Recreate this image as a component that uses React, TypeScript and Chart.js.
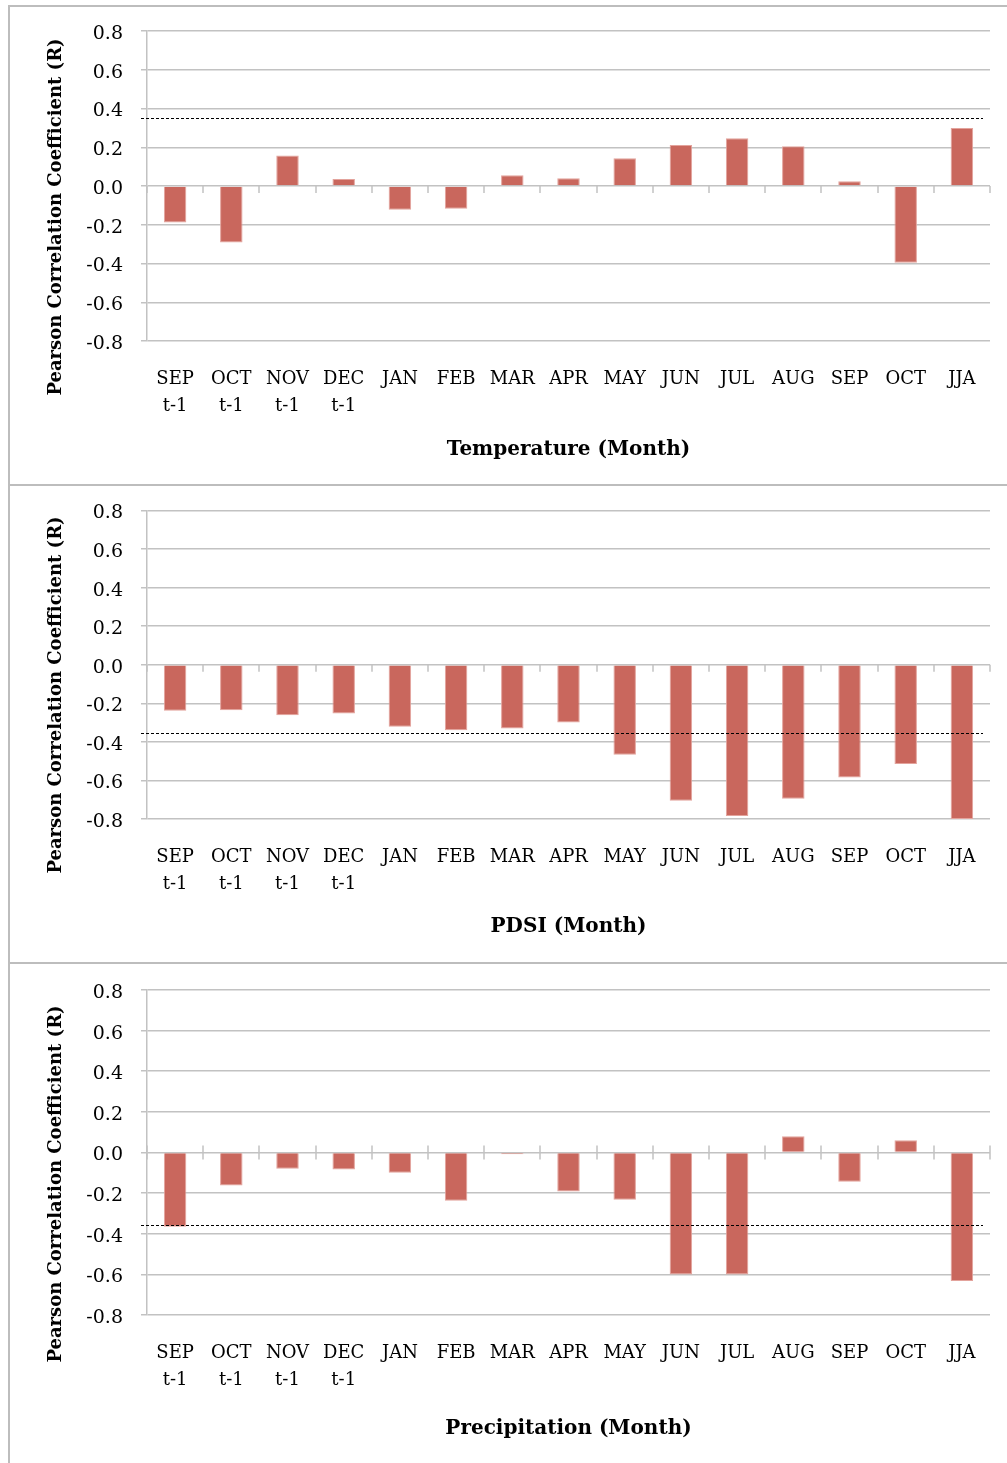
import React, { useEffect, useRef } from 'react';
import { Chart, registerables } from 'chart.js';

Chart.register(...registerables);

// ---------- data ----------
const categories: (string | string[])[] = [
  ['SEP', 't-1'], ['OCT', 't-1'], ['NOV', 't-1'], ['DEC', 't-1'],
  'JAN', 'FEB', 'MAR', 'APR', 'MAY', 'JUN', 'JUL', 'AUG', 'SEP', 'OCT', 'JJA',
];
const temperatureR = [-0.188, -0.292, 0.158, 0.036, -0.123, -0.118, 0.056, 0.04, 0.143, 0.212, 0.246, 0.205, 0.024, -0.396, 0.299];
const pdsiR = [-0.239, -0.236, -0.262, -0.253, -0.321, -0.34, -0.33, -0.3, -0.467, -0.705, -0.785, -0.695, -0.585, -0.515, -0.8];
const precipitationR = [-0.365, -0.163, -0.08, -0.084, -0.1, -0.237, -0.008, -0.192, -0.232, -0.6, -0.6, 0.08, -0.144, 0.06, -0.632];
const yTickValues = [-0.8, -0.6, -0.4, -0.2, 0, 0.2, 0.4, 0.6, 0.8];
const temperatureThreshold = 0.353;
const pdsiThreshold = -0.353;
const precipitationThreshold = -0.355;
const xTitles = ['Temperature (Month)', 'PDSI (Month)', 'Precipitation (Month)'];
const yTitle = 'Pearson Correlation Coefficient (R)';

// ---------- styles ----------
const FONT = "'DejaVu Serif', serif";
const GRID = '#C2C2C2';
const BAR = '#C9675D';
const BAR_EDGE = '#E3A39C';
const FRAME = '#BDBDBD';

const refMarks = {
  id: 'refMarks',
  beforeDatasetsDraw(chart: any, _args: any, opts: any) {
    const { ctx, scales } = chart;
    const x = scales.x;
    const y = scales.y;
    const y0 = y.getPixelForValue(0);
    const n = chart.data.labels.length;
    ctx.save();
    ctx.strokeStyle = GRID;
    ctx.lineWidth = 1.5;
    for (let i = 0; i <= n; i++) {
      const px = Math.round(x.getPixelForValue(i - 0.5));
      ctx.beginPath();
      ctx.moveTo(px, opts.cross ? y0 - 7 : y0);
      ctx.lineTo(px, y0 + 7);
      ctx.stroke();
    }
    ctx.restore();
  },
  afterDatasetsDraw(chart: any, _args: any, opts: any) {
    const { ctx, chartArea, scales } = chart;
    const yt = Math.round(scales.y.getPixelForValue(opts.threshold)) + 0.5;
    ctx.save();
    ctx.strokeStyle = '#000';
    ctx.lineWidth = 1;
    ctx.setLineDash([3, 2]);
    ctx.beginPath();
    ctx.moveTo(chartArea.left - 6, yt);
    ctx.lineTo(chartArea.right - 7, yt);
    ctx.stroke();
    ctx.restore();
  },
};

type PanelProps = {
  values: number[];
  threshold: number;
  xTitle: string;
  cross: boolean;
  padTop: number;
  xHeight: number;
  titlePad: number;
  top: number;
  height: number;
  yTitleCenter: number;
};

function Panel(p: PanelProps) {
  const ref = useRef<HTMLCanvasElement | null>(null);
  useEffect(() => {
    if (!ref.current) return;
    const chart = new Chart(ref.current, {
      type: 'bar',
      data: {
        labels: categories,
        datasets: [
          {
            data: p.values,
            backgroundColor: BAR,
            borderColor: BAR_EDGE,
            borderWidth: 1,
            barPercentage: 0.4,
            categoryPercentage: 1,
          },
        ],
      },
      options: {
        animation: false,
        responsive: false,
        maintainAspectRatio: false,
        layout: { padding: { top: p.padTop, right: 17, left: 0, bottom: 0 } },
        plugins: {
          legend: { display: false },
          tooltip: { enabled: false },
          refMarks: { threshold: p.threshold, cross: p.cross },
        } as any,
        scales: {
          x: {
            afterFit: (s: any) => {
              s.height = p.xHeight;
              s.paddingLeft = 0;
              s.paddingRight = 0;
            },
            grid: { display: false, drawTicks: false },
            border: { display: false },
            ticks: {
              autoSkip: false,
              maxRotation: 0,
              minRotation: 0,
              color: '#000',
              padding: 25,
              font: { family: FONT, size: 18, lineHeight: 1.5 },
            },
            title: {
              display: true,
              text: p.xTitle,
              color: '#000',
              font: { family: FONT, size: 20, weight: 'bold', lineHeight: 1.2 },
              padding: { top: 0, bottom: p.titlePad },
            },
          },
          y: {
            min: -0.8,
            max: 0.8,
            afterBuildTicks: (s: any) => { s.ticks = yTickValues.map((v) => ({ value: v })); },
            afterFit: (s: any) => {
              s.width = 137;
              s.paddingTop = 0;
              s.paddingBottom = 0;
            },
            grid: { color: GRID, lineWidth: 1.5, drawTicks: true, tickLength: 6 },
            border: { display: true, color: GRID, width: 1.5 },
            ticks: {
              color: '#000',
              padding: 18,
              labelOffset: 3,
              font: { family: FONT, size: 19 },
              callback: (v: any) => (Math.abs(Number(v)) < 1e-9 ? '0.0' : Number(v).toFixed(1)),
            },
          },
        },
      },
      plugins: [refMarks],
    });
    return () => chart.destroy();
  }, []);
  return (
    <>
      <canvas
        ref={ref}
        width={997}
        height={p.height}
        style={{ position: 'absolute', left: 10, top: p.top, width: 997, height: p.height }}
      />
      <div
        style={{
          position: 'absolute',
          left: 55 - 250,
          top: p.yTitleCenter - 12,
          width: 500,
          height: 24,
          lineHeight: '24px',
          textAlign: 'center',
          transform: 'rotate(-90deg)',
          fontFamily: FONT,
          fontWeight: 'bold',
          fontSize: 18,
          color: '#000',
          whiteSpace: 'nowrap',
        }}
      >
        {yTitle}
      </div>
    </>
  );
}

export default function App() {
  const line = (style: React.CSSProperties) => (
    <div style={{ position: 'absolute', background: FRAME, ...style }} />
  );
  return (
    <div
      style={{
        position: 'absolute',
        left: 0,
        top: 0,
        width: 1007,
        height: 1463,
        overflow: 'hidden',
        background: '#fff',
      }}
    >
      {line({ left: 8, top: 5, width: 2, height: 1458 })}
      {line({ left: 8, top: 5, width: 999, height: 2 })}
      {line({ left: 8, top: 484, width: 999, height: 2 })}
      {line({ left: 8, top: 962, width: 999, height: 2 })}
      <Panel values={temperatureR} threshold={temperatureThreshold} xTitle={xTitles[0]} cross={false}
        top={7} height={478} padTop={24} xHeight={144} titlePad={23} yTitleCenter={217} />
      <Panel values={pdsiR} threshold={pdsiThreshold} xTitle={xTitles[1]} cross={false}
        top={486} height={477} padTop={24.5} xHeight={144} titlePad={24} yTitleCenter={695} />
      <Panel values={precipitationR} threshold={precipitationThreshold} xTitle={xTitles[2]} cross={true}
        top={964} height={499} padTop={26} xHeight={148} titlePad={22} yTitleCenter={1184} />
    </div>
  );
}
